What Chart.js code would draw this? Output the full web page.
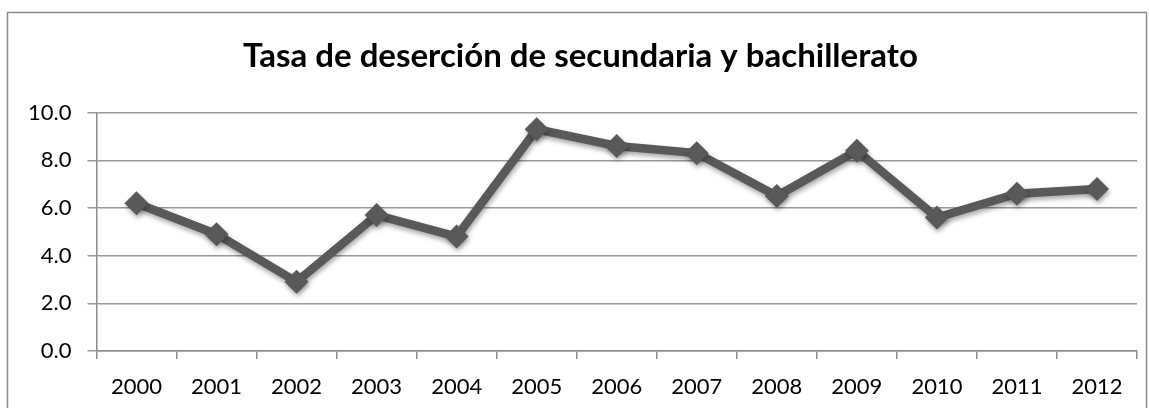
<!DOCTYPE html>
<html><head><meta charset="utf-8">
<script src="https://cdn.jsdelivr.net/npm/chart.js@4/dist/chart.umd.min.js"></script>
<style>
html,body{margin:0;padding:0;background:#fff;}
#wrap{position:absolute;left:0;top:0;width:1149px;height:408px;}
</style></head>
<body>
<div id="wrap"><canvas id="c" width="1149" height="408"></canvas></div>
<script>
const titleText = 'Tasa de deserción de secundaria y bachillerato';
const years = ['2000','2001','2002','2003','2004','2005','2006','2007','2008','2009','2010','2011','2012'];
const rates = [6.2, 4.9, 2.9, 5.7, 4.8, 9.3, 8.6, 8.3, 6.5, 8.4, 5.6, 6.6, 6.8];

const frame = {
  id: 'frame',
  beforeDraw(chart) {
    const ctx = chart.ctx;
    ctx.save();
    ctx.fillStyle = '#fff';
    ctx.fillRect(0, 0, chart.width, chart.height);
    ctx.strokeStyle = '#8c8c8c';
    ctx.lineWidth = 1.5;
    ctx.strokeRect(7.5, 12.5, 1139, 420);
    ctx.restore();
  }
};
const shadow = {
  id: 'shadow',
  beforeDatasetsDraw(chart) {
    const ctx = chart.ctx;
    ctx.save();
    ctx.shadowColor = 'rgba(0,0,0,0.35)';
    ctx.shadowBlur = 5;
    ctx.shadowOffsetX = 1;
    ctx.shadowOffsetY = 3;
  },
  afterDatasetsDraw(chart) { chart.ctx.restore(); }
};

new Chart(document.getElementById('c'), {
  type: 'line',
  data: {
    labels: years,
    datasets: [{
      data: rates,
      borderColor: '#595959',
      backgroundColor: '#595959',
      borderWidth: 8.5,
      pointStyle: 'rectRot',
      pointRadius: 12,
      pointHoverRadius: 12,
      pointBorderWidth: 0,
      tension: 0
    }]
  },
  options: {
    responsive: false,
    animation: false,
    devicePixelRatio: 1,
    layout: { padding: { left: 12, right: 0, top: 0, bottom: 0 } },
    plugins: {
      legend: { display: false },
      tooltip: { enabled: false },
      title: {
        display: true,
        text: titleText,
        color: '#000',
        font: { family: 'Lato', size: 33, weight: 'bold', lineHeight: 1.2 },
        padding: { top: 37, bottom: 36 }
      }
    },
    scales: {
      x: {
        offset: true,
        afterFit(scale) { scale.height = 57; },
        grid: { offset: true, drawOnChartArea: false, drawTicks: true, tickLength: 8, color: '#8c8c8c', lineWidth: 1.5 },
        border: { color: '#8c8c8c', width: 1.5 },
        ticks: { color: '#000', font: { family: 'Lato', size: 22, lineHeight: 1.0 }, padding: 17, maxRotation: 0, autoSkip: false }
      },
      y: {
        min: 0, max: 10,
        grid: { color: '#999', lineWidth: 1.5, tickLength: 9, drawTicks: true },
        border: { color: '#8c8c8c', width: 1.5 },
        ticks: { stepSize: 2, color: '#000', font: { family: 'Lato', size: 22 }, padding: 16,
                 callback: v => Number(v).toFixed(1) }
      }
    }
  },
  plugins: [frame, shadow]
});
</script>
</body></html>
